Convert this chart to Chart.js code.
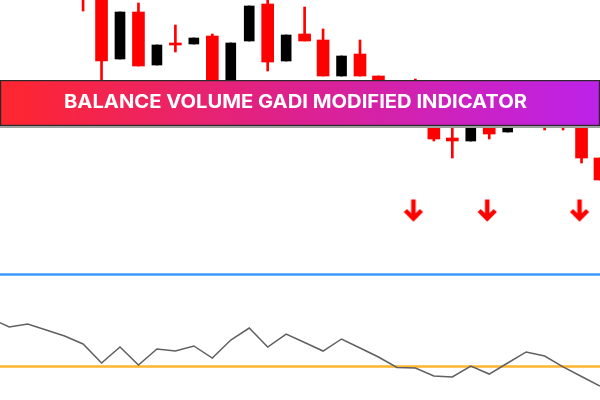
<!DOCTYPE html>
<html lang="en">
  <head>
    <meta charset="UTF-8" />
    <title>Balance Volume GADI Modified Indicator</title>
    <script src="https://cdn.jsdelivr.net/npm/chart.js"></script>
    <style>
      html, body { margin: 0; padding: 0; background: #ffffff; }
      #wrap { width: 600px; height: 400px; position: relative; }
    </style>
  </head>
  <body>
    <div id="wrap"><canvas id="chart"></canvas></div>

    <script>
      // candles, first visible bar index = 4
      const firstCandle = 4;
      const opens  = [123.0, 120.5, 114.1, 118.8, 113.5, 115.7, 115.6, 116.4, 110.5, 115.9, 119.6, 113.9, 116.6, 116.0, 112.4, 114.6, 112.4, 111.0, 110.5, 109.0, 106.2, 105.9, 108.5, 106.8, 110.0, 109.5, 109.0, 108.8, 104.2];
      const highs  = [124.0, 121.0, 118.8, 119.7, 115.5, 117.5, 116.2, 116.6, 115.7, 119.4, 120.3, 116.5, 119.3, 117.1, 114.4, 116.0, 112.4, 111.2, 112.1, 109.0, 110.0, 108.8, 108.5, 108.8, 110.5, 109.5, 109.0, 108.8, 104.2];
      const lows   = [118.9, 111.0, 114.1, 113.4, 113.5, 114.8, 115.6, 110.2, 110.5, 115.9, 112.9, 113.9, 115.9, 112.4, 112.4, 112.4, 111.0, 109.3, 108.8, 105.9, 104.2, 105.9, 106.1, 106.8, 108.3, 107.0, 107.0, 103.7, 102.0];
      const closes = [121.0, 113.9, 118.8, 113.4, 115.5, 115.5, 116.2, 110.5, 115.7, 119.4, 113.8, 116.5, 115.9, 112.4, 114.4, 112.4, 111.4, 109.5, 109.0, 106.1, 105.9, 108.8, 106.6, 108.8, 108.5, 108.5, 107.3, 104.2, 102.0];

      // sell arrows
      const arrowBars = [22, 26, 31];
      const arrowPrice = 98.9;

      // indicator window, bar index -1 .. 32
      const firstInd = -1;
      const indValues = [52.2, 42.9, 46.2, 39.7, 33.2, 24.5, 3.8, 21.2, 1.6, 19.0, 16.8, 22.3, 9.2, 28.8, 41.8, 21.2, 35.3, 26.1, 16.8, 29.9, 20.1, 10.3, -1.1, -1.6, -10.3, -11.4, 0.5, -8.2, 3.8, 15.8, 11.4, -0.5, -10.9, -21.2];
      const levelHigh = 100;
      const levelLow = 0;

      const title = "BALANCE VOLUME GADI MODIFIED INDICATOR";

      // split candles into bear / bull sets
      const redBody = [], blackBody = [], redWick = [], blackWick = [];
      opens.forEach((o, k) => {
        const x = firstCandle + k;
        const c = closes[k];
        const body = { x: x, y: [Math.min(o, c), Math.max(o, c)] };
        const wick = { x: x, y: [lows[k], highs[k]] };
        if (c < o) { redBody.push(body); redWick.push(wick); }
        else { blackBody.push(body); blackWick.push(wick); }
      });

      const indData = indValues.map((v, k) => ({ x: firstInd + k, y: v }));
      const arrowData = arrowBars.map((x) => ({ x: x, y: arrowPrice }));

      // red down arrow as point image
      const arrowImg = document.createElement("canvas");
      arrowImg.width = 24;
      arrowImg.height = 26;
      (function () {
        const a = arrowImg.getContext("2d");
        a.strokeStyle = "#ff0000";
        a.lineWidth = 4.5;
        a.lineJoin = "miter";
        a.beginPath();
        a.moveTo(10, 1.5);
        a.lineTo(10, 20);
        a.stroke();
        a.beginPath();
        a.moveTo(2, 12.5);
        a.lineTo(10, 20.5);
        a.lineTo(18, 12.5);
        a.stroke();
      })();

      // banner across the price window
      const bannerPlugin = {
        id: "banner",
        afterDatasetsDraw(chart) {
          const ctx = chart.ctx;
          const top = 80, h = 46, w = chart.width;
          ctx.save();
          ctx.fillStyle = "#a0a0a0";
          ctx.fillRect(0, top + h, w, 2);
          const g = ctx.createLinearGradient(0, 0, w, 0);
          g.addColorStop(0, "#ff262e");
          g.addColorStop(0.5, "#dc2190");
          g.addColorStop(1, "#bd22ea");
          ctx.fillStyle = g;
          ctx.fillRect(0, top, w, h);
          ctx.strokeStyle = "#2a2a2a";
          ctx.lineWidth = 1.2;
          ctx.strokeRect(0.6, top + 0.6, w - 1.2, h - 1.2);

          ctx.font = "700 19px Inter";
          ctx.fillStyle = "#ffffff";
          ctx.textBaseline = "alphabetic";
          const tw = ctx.measureText(title).width;
          const target = 463;
          ctx.translate(64, 108);
          ctx.scale(target / tw, 1);
          ctx.fillText(title, 0, 0);
          ctx.restore();
        },
      };

      const ctx = document.getElementById("chart").getContext("2d");
      new Chart(ctx, {
        type: "bar",
        data: {
          datasets: [
            {
              type: "scatter",
              data: arrowData,
              yAxisID: "price",
              pointStyle: arrowImg,
              pointRadius: 10,
            },
            {
              type: "line",
              data: indData,
              yAxisID: "ind",
              borderColor: "#606060",
              borderWidth: 1.5,
              pointRadius: 0,
              tension: 0,
            },
            {
              type: "line",
              data: [{ x: -1, y: levelLow }, { x: 33, y: levelLow }],
              yAxisID: "ind",
              borderColor: "#ffb52e",
              borderWidth: 2.5,
              pointRadius: 0,
            },
            {
              type: "line",
              data: [{ x: -1, y: levelHigh }, { x: 33, y: levelHigh }],
              yAxisID: "ind",
              borderColor: "#3a99ff",
              borderWidth: 2.5,
              pointRadius: 0,
            },
            {
              data: redBody,
              yAxisID: "price",
              backgroundColor: "#ff0000",
              barThickness: 12,
              grouped: false,
            },
            {
              data: blackBody,
              yAxisID: "price",
              backgroundColor: "#000000",
              borderWidth: 0,
              barThickness: 10,
              grouped: false,
            },
            {
              data: redWick,
              yAxisID: "price",
              backgroundColor: "#ff0000",
              barThickness: 2,
              grouped: false,
            },
            {
              data: blackWick,
              yAxisID: "price",
              backgroundColor: "#000000",
              barThickness: 2,
              grouped: false,
            },
          ],
        },
        plugins: [bannerPlugin],
        options: {
          responsive: true,
          maintainAspectRatio: false,
          animation: false,
          layout: { padding: 0, autoPadding: false },
          scales: {
            x: { type: "linear", min: -0.5, max: 32, offset: false, display: false },
            price: { type: "linear", position: "left", min: 80, max: 120, display: false },
            ind: { type: "linear", position: "right", min: -36.41, max: 398.37, display: false },
          },
          plugins: {
            legend: { display: false },
            tooltip: { enabled: false },
          },
        },
      });
    </script>
  </body>
</html>
